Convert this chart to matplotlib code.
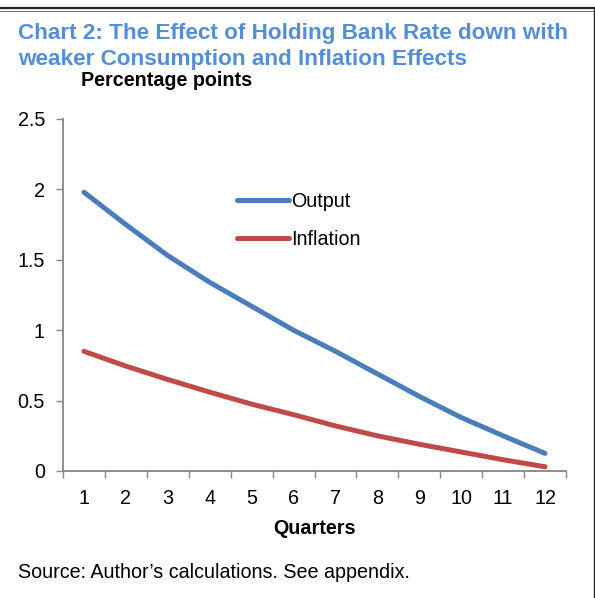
import matplotlib
matplotlib.use("Agg")
import matplotlib.pyplot as plt
from matplotlib.lines import Line2D

plt.rcParams['font.family'] = ['Liberation Sans', 'DejaVu Sans']

# Data
quarters = [1, 2, 3, 4, 5, 6, 7, 8, 9, 10, 11, 12]
output = [1.98, 1.75, 1.53, 1.34, 1.17, 1.00, 0.85, 0.69, 0.53, 0.38, 0.25, 0.125]
inflation = [0.85, 0.745, 0.65, 0.56, 0.475, 0.40, 0.32, 0.25, 0.19, 0.135, 0.08, 0.03]
yticks = [0, 0.5, 1, 1.5, 2, 2.5]
ytick_labels = ['0', '0.5', '1', '1.5', '2', '2.5']

blue = '#4A7EBB'
red = '#BE4B48'
grey = '#868686'
fs = 14.2

fig = plt.figure(figsize=(5.95, 5.98), dpi=100)
ax = fig.add_axes([63/595, 1 - 471/598, (566 - 63)/595, (471 - 119)/598])

ax.plot(quarters, output, color=blue, lw=3.6, solid_capstyle='round', label='Output')
ax.plot(quarters, inflation, color=red, lw=3.6, solid_capstyle='round', label='Inflation')

ax.set_xlim(0.5, 12.5)
ax.set_ylim(0, 2.5)

# category axis: tick marks between categories, labels at centres
ax.set_xticks([q - 0.5 for q in quarters] + [12.5])
ax.set_xticklabels([])
ax.set_xticks(quarters, minor=True)
ax.set_xticklabels([str(q) for q in quarters], minor=True)
ax.tick_params(axis='x', which='major', direction='out', length=5, width=1, color=grey)
ax.tick_params(axis='x', which='minor', length=0, pad=13, labelsize=fs)

ax.set_yticks(yticks)
ax.set_yticklabels(ytick_labels)
ax.tick_params(axis='y', direction='out', length=5, width=1, color=grey, pad=8, labelsize=fs)

for s in ['top', 'right']:
    ax.spines[s].set_visible(False)
for s in ['left', 'bottom']:
    ax.spines[s].set_color(grey)
    ax.spines[s].set_linewidth(1.3)

ax.set_xlabel('Quarters', fontsize=fs, fontweight='bold', labelpad=8)

leg = ax.legend(loc='center left', bbox_to_anchor=((237 - 63)/503, (471 - 220.5)/352),
                frameon=False, fontsize=fs, handlelength=2.65, handletextpad=0.1,
                labelspacing=1.0, borderaxespad=0, borderpad=0)

title_color = '#558ED5'
fig.text(18/595, 1 - 34/598, 'Chart 2: The Effect of Holding Bank Rate down with',
         color=title_color, fontsize=16.2, fontweight='bold', va='center', ha='left')
fig.text(18/595, 1 - 59/598, 'weaker Consumption and Inflation Effects',
         color=title_color, fontsize=16.2, fontweight='bold', va='center', ha='left')
fig.text(81/595, 1 - 80/598, 'Percentage points', fontsize=fs, fontweight='bold', va='center', ha='left')
fig.text(18/595, 1 - 573/598, 'Source: Author\u2019s calculations. See appendix.', fontsize=fs, va='center', ha='left')

# page borders
fig.add_artist(Line2D([0, 1], [1 - 8/598, 1 - 8/598], color='#222222', lw=1.6))
fig.add_artist(Line2D([0, 1], [1 - 10.5/598, 1 - 10.5/598], color='#555555', lw=0.6))
fig.add_artist(Line2D([593.5/595, 593.5/595], [0, 1 - 8/598], color='#222222', lw=1.0))

fig.savefig('out.png', dpi=100)
